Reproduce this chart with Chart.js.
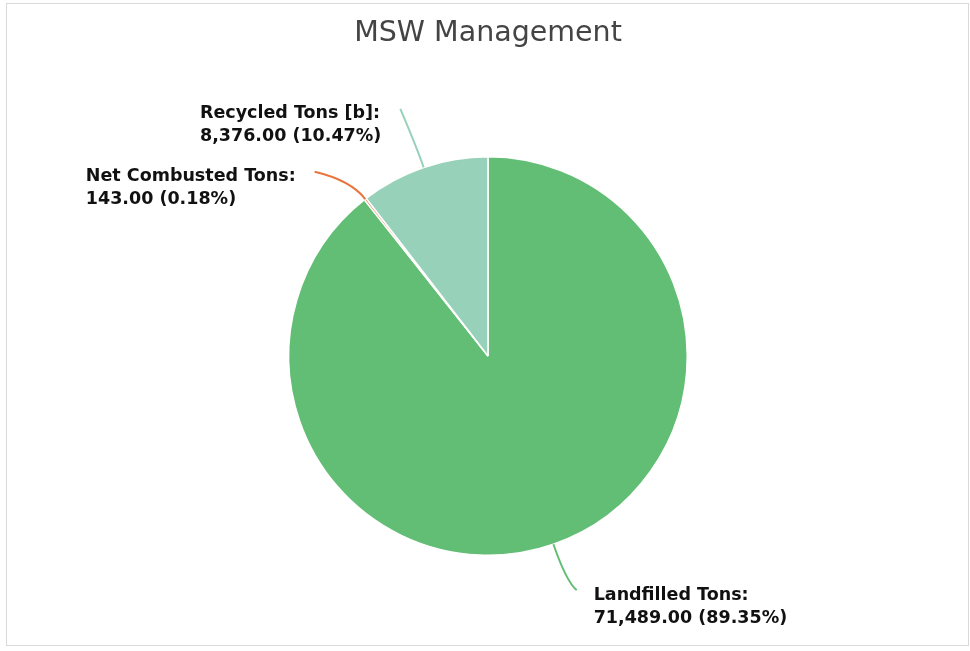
<!DOCTYPE html>
<html>
<head>
<meta charset="utf-8">
<script src="https://cdn.jsdelivr.net/npm/chart.js@4"></script>
<style>
  html, body { margin: 0; padding: 0; background: #fff; }
  #wrap { width: 970px; height: 651px; }
</style>
</head>
<body>
<div id="wrap"><canvas id="mswChart"></canvas></div>
<script>
// chart data
const categories = ['Landfilled Tons', 'Net Combusted Tons', 'Recycled Tons [b]'];
const tons = [71489, 143, 8376];
const sliceColors = ['#62be74', '#e8743b', '#98d1b9'];

// where each callout line ends, relative to the pie centre (px at radius 200)
const calloutEnds = [
    { dx: 89, dy: 235, bend: 1.2 },
    { dx: -174, dy: -185, bend: 1.12 },
    { dx: -88, dy: -248, bend: 1.1 }
];

const total = tons.reduce((a, b) => a + b, 0);

function fmt(v) {
    return v.toLocaleString('en-US', { minimumFractionDigits: 2, maximumFractionDigits: 2 });
}

const framePlugin = {
    id: 'frame',
    beforeDraw(chart) {
        const ctx = chart.ctx;
        ctx.save();
        ctx.strokeStyle = '#d9d9d9';
        ctx.lineWidth = 1;
        ctx.strokeRect(6.5, 3.5, 962, 642);
        ctx.restore();
    }
};

const calloutPlugin = {
    id: 'callouts',
    afterDatasetsDraw(chart) {
        const ctx = chart.ctx;
        const meta = chart.getDatasetMeta(0);
        meta.data.forEach((arc, i) => {
            const p = arc.getProps(['x', 'y', 'startAngle', 'endAngle', 'outerRadius'], true);
            const mid = (p.startAngle + p.endAngle) / 2;
            const r = p.outerRadius;
            const k = r / 200;
            const sx = p.x + Math.cos(mid) * r;
            const sy = p.y + Math.sin(mid) * r;
            const cx = p.x + Math.cos(mid) * r * calloutEnds[i].bend;
            const cy = p.y + Math.sin(mid) * r * calloutEnds[i].bend;
            const ex = p.x + calloutEnds[i].dx * k;
            const ey = p.y + calloutEnds[i].dy * k;

            ctx.save();
            ctx.strokeStyle = sliceColors[i];
            ctx.lineWidth = 2;
            ctx.beginPath();
            ctx.moveTo(sx, sy);
            ctx.quadraticCurveTo(cx, cy, ex, ey);
            ctx.stroke();

            const lines = [
                categories[i] + ':',
                fmt(tons[i]) + ' (' + (tons[i] / total * 100).toFixed(2) + '%)'
            ];
            ctx.font = 'bold 17.5px "DejaVu Sans", sans-serif';
            ctx.fillStyle = '#111';
            ctx.textAlign = 'left';
            ctx.textBaseline = 'middle';
            const w = Math.max(...lines.map(l => ctx.measureText(l).width));
            const tx = ex < p.x ? ex - 19 - w : ex + 17;
            lines.forEach((l, j) => ctx.fillText(l, tx, ey + 5 + j * 23));
            ctx.restore();
        });
    }
};

const ctx = document.getElementById('mswChart').getContext('2d');
new Chart(ctx, {
    type: 'pie',
    data: {
        labels: categories,
        datasets: [{
            data: tons,
            backgroundColor: sliceColors,
            borderColor: '#ffffff',
            borderWidth: 1.5
        }]
    },
    options: {
        responsive: true,
        maintainAspectRatio: false,
        animation: false,
        layout: {
            padding: { top: 10, bottom: 95, left: 288, right: 282 }
        },
        plugins: {
            legend: { display: false },
            tooltip: { enabled: false },
            title: {
                display: true,
                text: 'MSW Management',
                color: '#444',
                font: { family: '"DejaVu Sans", sans-serif', size: 28.5, weight: 'normal' },
                padding: { top: 6, bottom: 105.8 }
            }
        }
    },
    plugins: [framePlugin, calloutPlugin]
});
</script>
</body>
</html>
